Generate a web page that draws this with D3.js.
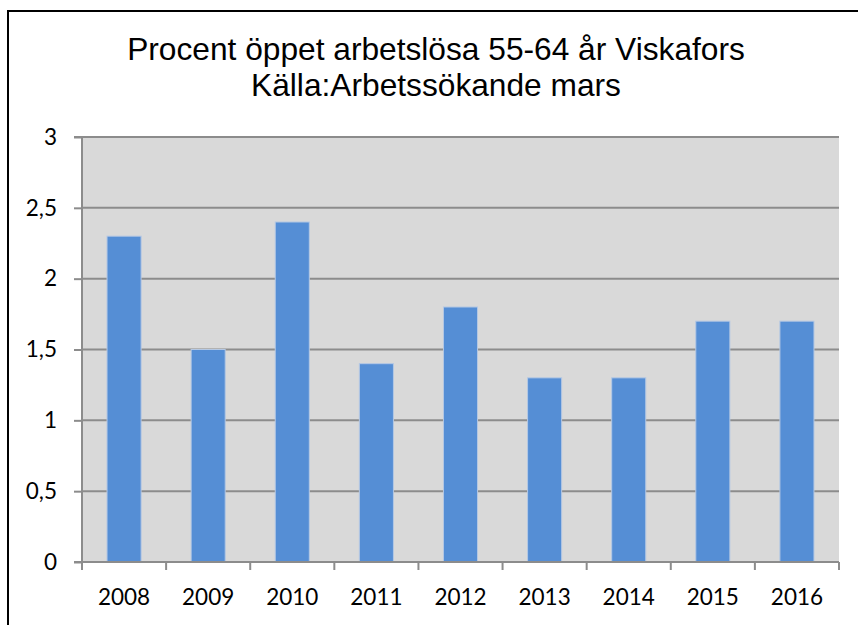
<!DOCTYPE html>
<html>
<head>
<meta charset="utf-8">
<script src="https://cdn.jsdelivr.net/npm/d3@7"></script>
<style>
  body { margin: 0; background: #fff; }
  svg { display: block; }
</style>
</head>
<body>
<div id="chart"></div>
<script>
var YEARS = ["2008", "2009", "2010", "2011", "2012", "2013", "2014", "2015", "2016"];
var VALUES = [2.3, 1.5, 2.4, 1.4, 1.8, 1.3, 1.3, 1.7, 1.7];
var Y_TICKS = [0, 0.5, 1, 1.5, 2, 2.5, 3];
var TITLE_LINES = ["Procent öppet arbetslösa 55-64 år Viskafors", "Källa:Arbetssökande mars"];

var W = 858, H = 625;
var plot = {left: 82, top: 137, right: 839, bottom: 562};

var svg = d3.select("#chart").append("svg")
  .attr("width", W)
  .attr("height", H);

svg.append("rect")
  .attr("width", W).attr("height", H)
  .attr("fill", "#fff");

// outer chart border (runs off right/bottom edge like in the picture)
svg.append("rect")
  .attr("x", 8).attr("y", 11)
  .attr("width", W + 20).attr("height", H + 20)
  .attr("fill", "none")
  .attr("stroke", "#000")
  .attr("stroke-width", 2);

var x = d3.scaleBand()
  .domain(YEARS)
  .range([plot.left, plot.right])
  .paddingInner(0.595)
  .paddingOuter(0.2975);

var xOuter = d3.scaleBand()
  .domain(YEARS)
  .range([plot.left, plot.right]);

var y = d3.scaleLinear()
  .domain([0, 3])
  .range([plot.bottom, plot.top]);

// plot background
svg.append("rect")
  .attr("x", plot.left).attr("y", plot.top)
  .attr("width", plot.right - plot.left)
  .attr("height", plot.bottom - plot.top)
  .attr("fill", "#d9d9d9");

// gridlines
svg.append("g")
  .selectAll("line")
  .data(Y_TICKS.filter(function(d) { return d > 0; }))
  .enter().append("line")
  .attr("x1", plot.left).attr("x2", plot.right)
  .attr("y1", function(d) { return y(d); })
  .attr("y2", function(d) { return y(d); })
  .attr("stroke", "#8c8c8c")
  .attr("stroke-width", 2);

// bars
svg.append("g")
  .selectAll("rect")
  .data(VALUES)
  .enter().append("rect")
  .attr("x", function(d, i) { return x(YEARS[i]); })
  .attr("y", function(d) { return y(d); })
  .attr("width", x.bandwidth())
  .attr("height", function(d) { return y(0) - y(d); })
  .attr("fill", "#558ed5")
  .attr("stroke", "#b4c8e4")
  .attr("stroke-width", 1);

// y axis
var yAxis = d3.axisLeft(y)
  .tickValues(Y_TICKS)
  .tickSize(8)
  .tickPadding(17)
  .tickFormat(function(d) { return String(d).replace(".", ","); });

var gy = svg.append("g")
  .attr("transform", "translate(" + plot.left + ",0)")
  .call(yAxis);

// x axis, ticks between categories
var xBounds = YEARS.map(function(d) { return xOuter(d); }).concat([plot.right]);
var gx = svg.append("g");
gx.append("line")
  .attr("x1", plot.left - 8).attr("x2", plot.right)
  .attr("y1", plot.bottom).attr("y2", plot.bottom)
  .attr("stroke", "#8c8c8c").attr("stroke-width", 2);
gx.selectAll(".xt")
  .data(xBounds)
  .enter().append("line")
  .attr("class", "xt")
  .attr("x1", function(d) { return d; }).attr("x2", function(d) { return d; })
  .attr("y1", plot.bottom).attr("y2", plot.bottom + 8)
  .attr("stroke", "#8c8c8c").attr("stroke-width", 2);
gx.selectAll("text")
  .data(YEARS)
  .enter().append("text")
  .attr("x", function(d) { return xOuter(d) + xOuter.bandwidth() / 2; })
  .attr("y", 605)
  .attr("text-anchor", "middle")
  .style("font-family", "Lato, 'Open Sans', sans-serif")
  .style("font-size", "22.5px")
  .attr("fill", "#000")
  .text(function(d) { return d; });

gy.select(".domain")
  .attr("stroke", "#8c8c8c").attr("stroke-width", 2)
  .attr("d", "M" + (-8) + "," + plot.top + "H0V" + plot.bottom);
gy.selectAll(".tick line")
  .attr("stroke", "#8c8c8c").attr("stroke-width", 2);
gy.selectAll(".tick text")
  .style("font-family", "Lato, 'Open Sans', sans-serif")
  .style("font-size", "22.5px")
  .attr("fill", "#000");

// title
svg.append("g")
  .selectAll("text")
  .data(TITLE_LINES)
  .enter().append("text")
  .attr("x", 436)
  .attr("y", function(d, i) { return 60 + i * 36; })
  .attr("text-anchor", "middle")
  .style("font-family", "'Liberation Sans', Arial, sans-serif")
  .style("font-size", "31.7px")
  .attr("fill", "#000")
  .text(function(d) { return d; });
</script>
</body>
</html>
